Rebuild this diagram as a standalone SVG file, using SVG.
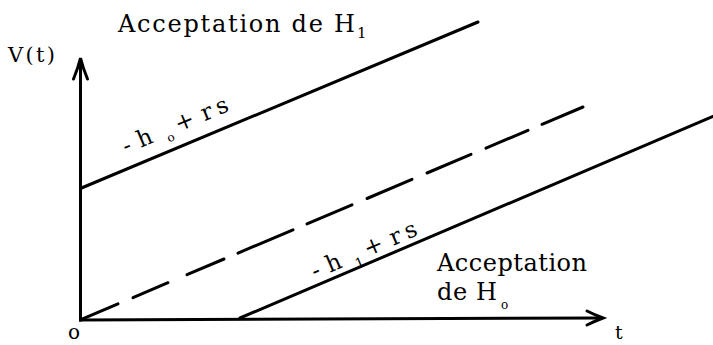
<svg xmlns="http://www.w3.org/2000/svg" width="713" height="345" viewBox="0 0 713 345">
<style>
.ln{stroke:#000;stroke-width:3;fill:none;stroke-linecap:round}
.ax{stroke:#000;stroke-width:3;fill:none;stroke-linecap:square}
.ah{stroke:#000;stroke-width:3;fill:none;stroke-linecap:round;stroke-linejoin:miter}
text{font-family:"DejaVu Serif","Liberation Serif",serif;fill:#000}
.big{font-size:24px}
.lab{font-size:23px}
</style>
<rect width="713" height="345" fill="#fff"/>
<g id="axes">
<line class="ax" x1="80.5" y1="60" x2="80.5" y2="320"/>
<line class="ax" x1="80.5" y1="320" x2="601" y2="318"/>
<path class="ah" d="M73.5,79 Q78,68 80.5,58 Q83,68 87.5,79"/>
<path class="ah" d="M587,311 Q595,315 603,318 Q595,321 587,325"/>
</g>
<g id="lines">
<line class="ln" x1="81.5" y1="188" x2="478" y2="22"/>
<line class="ln" x1="240" y1="318" x2="714" y2="116"/>
<g id="dashed">
<line class="ln" x1="82" y1="319.2" x2="118" y2="303.9"/>
<line class="ln" x1="133" y1="297.6" x2="168" y2="282.7"/>
<line class="ln" x1="187" y1="274.7" x2="224" y2="259"/>
<line class="ln" x1="238" y1="253.1" x2="293" y2="229.8"/>
<line class="ln" x1="307" y1="223.9" x2="352" y2="204.8"/>
<line class="ln" x1="367" y1="198.5" x2="412" y2="179.4"/>
<line class="ln" x1="427" y1="173" x2="471" y2="154.4"/>
<line class="ln" x1="486" y1="148.1" x2="528" y2="130.3"/>
<line class="ln" x1="542" y1="124.3" x2="583" y2="107"/>
</g>
</g>
<g id="labels">
<text class="big" x="118" y="32" textLength="237" lengthAdjust="spacing">Acceptation de H</text>
<text x="357" y="38" font-size="15">1</text>
<text x="8" y="62" font-size="21" textLength="47" lengthAdjust="spacing">V(t)</text>
<text class="big" x="437" y="271" textLength="150" lengthAdjust="spacing">Acceptation</text>
<text class="big" x="437" y="300" textLength="60" lengthAdjust="spacing">de H</text>
<text x="501" y="309" font-size="12">o</text>
<text x="68" y="339" font-size="20">o</text>
<text x="615" y="339" font-size="19">t</text>
<g id="label-h0" transform="translate(126,154) rotate(-22.7)">
<text class="lab" x="0" y="0">-</text>
<text class="lab" x="16" y="0">h</text>
<text x="44" y="6" font-size="12">o</text>
<text class="lab" x="57" y="0">+</text>
<text class="lab" x="85" y="0" textLength="28" lengthAdjust="spacing">rs</text>
</g>
<g id="label-h1" transform="translate(315,279) rotate(-23.1)">
<text class="lab" x="0" y="0">-</text>
<text class="lab" x="16" y="0">h</text>
<text x="43" y="7.5" font-size="14">1</text>
<text class="lab" x="57" y="0">+</text>
<text class="lab" x="85" y="0" textLength="28" lengthAdjust="spacing">rs</text>
</g>
</g>
</svg>
